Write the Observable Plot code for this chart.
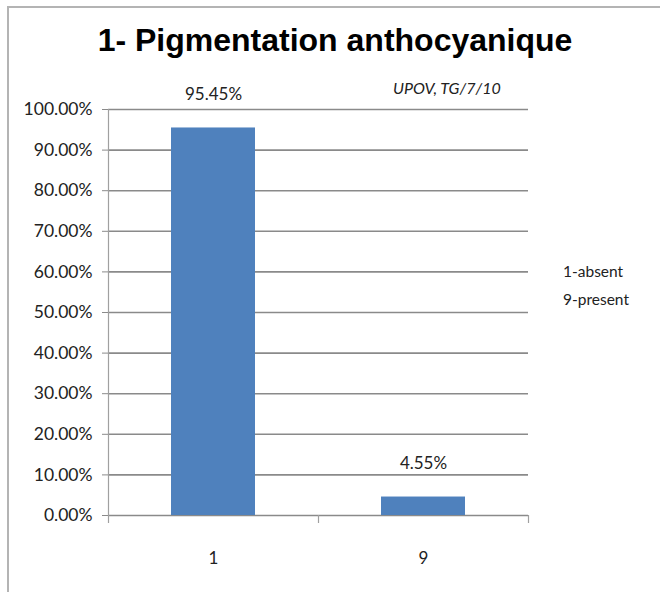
<!DOCTYPE html>
<html>
<head>
<meta charset="utf-8">
<script src="https://cdn.jsdelivr.net/npm/d3@7"></script>
<script src="https://cdn.jsdelivr.net/npm/@observablehq/plot@0.6"></script>
<style>
  html, body { margin: 0; padding: 0; background: #fff; }
  #wrap { position: relative; width: 660px; height: 592px; overflow: hidden; font-family: Lato, "Open Sans", sans-serif; }
  #border { position: absolute; left: 7px; top: 6px; width: 700px; height: 700px; border-left: 2px solid #b4b4b4; border-top: 2px solid #b4b4b4; box-sizing: border-box; }
  #title { position: absolute; left: 0; width: 670px; top: 22px; text-align: center; font: bold 32px "Liberation Sans", Arial, sans-serif; color: #000; white-space: nowrap; }
  #src { position: absolute; left: 393px; top: 78px; font-style: italic; font-size: 16px; color: #222; }
  #legend { position: absolute; left: 563px; top: 257px; font-size: 15.5px; line-height: 28px; color: #222; }
  #chart { position: absolute; left: 0; top: 0; }
</style>
</head>
<body>
<div id="wrap">
  <div id="border"></div>
  <div id="title">1- Pigmentation anthocyanique</div>
  <div id="src">UPOV, TG/7/10</div>
  <div id="legend">1-absent<br>9-present</div>
  <div id="chart"></div>
</div>
<script>
const categories = ["1", "9"];
const values = [0.9545, 0.0455];
const valueLabels = ["95.45%", "4.55%"];
const yTicks = [0, 0.1, 0.2, 0.3, 0.4, 0.5, 0.6, 0.7, 0.8, 0.9, 1.0];

const data = categories.map((c, i) => ({cat: c, value: values[i], label: valueLabels[i]}));
const fmt = d3.format(".2%");

const plot = Plot.plot({
  width: 660,
  height: 592,
  marginLeft: 108,
  marginRight: 132,
  marginTop: 109,
  marginBottom: 77,
  style: {fontFamily: "Lato, 'Open Sans', sans-serif", fontSize: "17px", color: "#222", background: "transparent"},
  x: {domain: categories, paddingInner: 0.6, paddingOuter: 0.3, label: null},
  y: {domain: [0, 1], label: null},
  marks: [
    Plot.ruleY(yTicks, {stroke: "#8a8a8a", strokeWidth: 1.6}),
    Plot.frame({anchor: "left", stroke: "#a0a0a0", strokeWidth: 1.2}),
    Plot.barY(data, {x: "cat", y: "value", fill: "#4f81bd"}),
    Plot.axisY({ticks: yTicks, tickFormat: fmt, tickSize: 6, tickPadding: 10, stroke: "#8a8a8a", fill: "#222", fontSize: 17.5}),
    Plot.ruleX(categories, {x: d => d, dx: -105, y1: 0, y2: 0, insetBottom: -8, stroke: "#a0a0a0", strokeWidth: 1.2}),
    Plot.ruleX(categories.slice(-1), {x: d => d, dx: 105, y1: 0, y2: 0, insetBottom: -8, stroke: "#a0a0a0", strokeWidth: 1.2}),
    Plot.axisX({tickSize: 0, tickPadding: 36, fill: "#222", fontSize: 17}),
    Plot.text(data, {x: "cat", y: "value", text: "label", dy: -33, fill: "#222", fontSize: 17})
  ]
});
document.getElementById("chart").appendChild(plot);
</script>
</body>
</html>
